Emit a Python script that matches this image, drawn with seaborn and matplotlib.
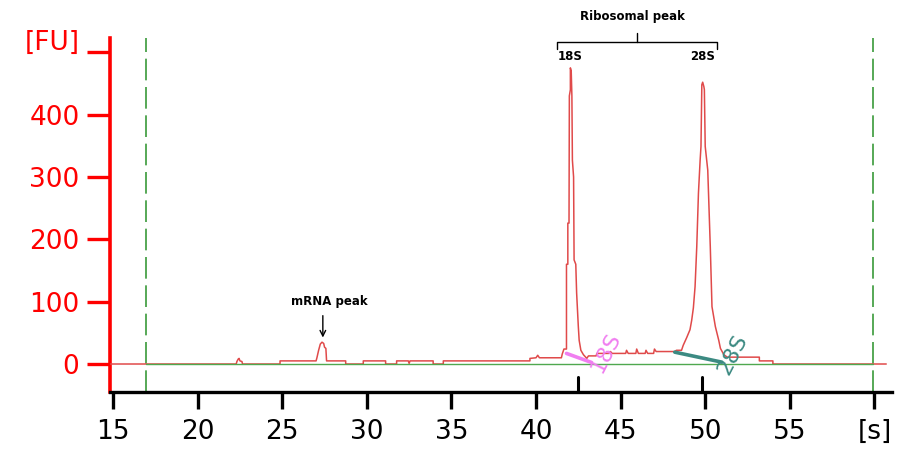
import matplotlib
matplotlib.use("Agg")
import matplotlib.pyplot as plt
import seaborn as sns
import numpy as np
import pandas as pd

# ---- data ----
trace_time = [14.85, 22.28, 22.32, 22.40, 22.45, 22.50, 22.62, 22.65,
              24.87, 24.87, 27.00, 27.05, 27.15, 27.25, 27.35, 27.45, 27.50, 27.58, 27.62, 28.75, 28.75,
              29.79, 29.79, 31.11, 31.11,
              31.76, 31.76, 32.45, 32.50, 32.55, 33.92, 33.92,
              34.52, 34.52, 39.64, 39.64, 40.00, 40.10, 40.20, 41.50, 41.55, 41.65, 41.80,
              41.80, 41.88, 41.88, 41.95, 41.97, 42.03, 42.03, 42.08, 42.12, 42.15, 42.22, 42.25,
              42.35, 42.40, 42.50, 42.55, 42.65, 42.80, 43.00, 43.10, 43.55, 43.60,
              44.30, 44.40, 44.50, 45.30, 45.35, 45.45, 45.90, 45.95, 46.05, 46.45, 46.50, 46.60,
              46.95, 47.00, 47.10, 48.20, 48.30, 48.60, 48.70, 48.90, 49.10, 49.20, 49.30, 49.40,
              49.50, 49.60, 49.70, 49.75, 49.80, 49.85, 49.92, 49.95, 50.00, 50.15, 50.30, 50.40,
              50.60, 50.80, 50.90, 51.10, 51.30, 53.20, 53.20, 54.00, 54.00, 60.70]
trace_fu = [0, 0, 4, 8, 9, 5, 4, 0,
            0, 5, 5, 10, 22, 32, 35, 33, 27, 25, 5, 5, 0,
            0, 5, 5, 0,
            0, 5, 5, 1, 5, 5, 0,
            0, 5, 5, 9, 10, 14, 10, 10, 16, 24, 24,
            160, 160, 226, 226, 430, 440, 475, 470, 430, 327, 300, 167,
            160, 114, 60, 38, 22, 15, 9, 13, 13, 17,
            17, 20, 17, 17, 22, 17, 17, 24, 17, 17, 22, 17,
            17, 24, 20, 20, 22, 22, 30, 42, 55, 70, 90, 124,
            188, 274, 327, 349, 448, 452, 445, 440, 349, 311, 188, 92,
            60, 38, 25, 15, 11, 11, 5, 5, 0, 0]

x_ticks = [15, 20, 25, 30, 35, 40, 45, 50, 55, 60]
x_tick_labels = ["15", "20", "25", "30", "35", "40", "45", "50", "55", "[s]"]
y_ticks = [0, 100, 200, 300, 400, 500]
y_tick_labels = ["0", "100", "200", "300", "400", ""]

window_start, window_end = 16.95, 59.9          # green dashed analysis window
peak_marks = [42.48, 49.8]                      # upward peak tick marks
peak_18s_line = ([41.8, 43.28], [17, 2.5])
peak_28s_line = ([48.2, 50.98], [19, 3])
mrna_peak = (27.4, 35)

df = pd.DataFrame({"time": trace_time, "fu": trace_fu})

sns.set_style("white")
plt.rcParams["font.family"] = ["DejaVu Sans"]
plt.rcParams["text.color"] = "black"

fig = plt.figure(figsize=(9.13, 4.53), dpi=100)
ax = fig.add_axes([110 / 913, 61 / 453, 782 / 913, 354 / 453])

sns.lineplot(data=df, x="time", y="fu", estimator=None, sort=False,
             color="#e04a4a", lw=1.1, ax=ax, zorder=3)
# green baseline inside analysis window
ax.plot([window_start, window_end], [0, 0], color="#4fa84f", lw=1.0, zorder=3.5)

for xv in (window_start, window_end):
    ax.axvline(xv, color="#3a9a3a", lw=1.2, dashes=(13, 4), zorder=1)

for xv in peak_marks:
    ax.axvline(xv, ymin=0, ymax=15 / 354, color="black", lw=2.2, zorder=4)

# peak baseline annotations
ax.plot(*peak_18s_line, color="#f07ef0", lw=2.6, zorder=5, solid_capstyle="round")
ax.plot(*peak_28s_line, color="#3c8a82", lw=2.6, zorder=5, solid_capstyle="round")
ax.text(44.15, 18, "18S", color="#f07ef0", fontsize=16, rotation=63,
        ha="center", va="center", zorder=6)
ax.text(51.6, 15, "28S", color="#3c8a82", fontsize=16, rotation=63,
        ha="center", va="center", zorder=6)

# ribosomal bracket
bx0, bx1, bmid = 41.23, 50.69, 45.95
ax.plot([bx0, bx0, bx1, bx1], [506, 517, 517, 506], color="black", lw=1.0, clip_on=False)
ax.plot([bmid, bmid], [517, 531], color="black", lw=1.0, clip_on=False)
ax.text(45.7, 558, "Ribosomal peak", fontsize=8.5, fontweight="bold", ha="center",
        va="center", clip_on=False, color="black")
ax.text(42.0, 494, "18S", fontsize=8.5, fontweight="bold", ha="center", va="center",
        clip_on=False, color="black")
ax.text(49.87, 494, "28S", fontsize=8.5, fontweight="bold", ha="center", va="center",
        clip_on=False, color="black")

# mRNA annotation
ax.annotate("", xy=(mrna_peak[0], 38), xytext=(mrna_peak[0], 82),
            arrowprops=dict(arrowstyle="->", color="black", lw=1.0))
ax.text(27.8, 100, "mRNA peak", fontsize=8.5, fontweight="bold", ha="center", va="center",
        color="black")

# axes styling
ax.set_xlim(14.82, 61.04)
ax.set_ylim(-44.9, 522.9)
ax.set_xticks(x_ticks)
ax.set_xticklabels(x_tick_labels)
ax.set_yticks(y_ticks)
ax.set_yticklabels(y_tick_labels)
ax.set_xlabel("")
ax.set_ylabel("")

for s in ("top", "right"):
    ax.spines[s].set_visible(False)
ax.spines["left"].set_color("#ff0000")
ax.spines["left"].set_linewidth(2.6)
ax.spines["bottom"].set_color("black")
ax.spines["bottom"].set_linewidth(2.4)

ax.tick_params(axis="y", colors="#ff0000", length=16.5, width=2.4, labelsize=19, pad=5.5,
               direction="out", left=True)
ax.tick_params(axis="x", colors="black", length=12.5, width=2.4, labelsize=19, pad=7,
               direction="out", bottom=True)

ax.annotate("[FU]", xy=(0, 500), xycoords=("axes fraction", "data"),
            xytext=(-22, 7), textcoords="offset points", ha="right", va="center",
            fontsize=19, color="#ff0000", annotation_clip=False)

fig.savefig("out.png", dpi=100)
